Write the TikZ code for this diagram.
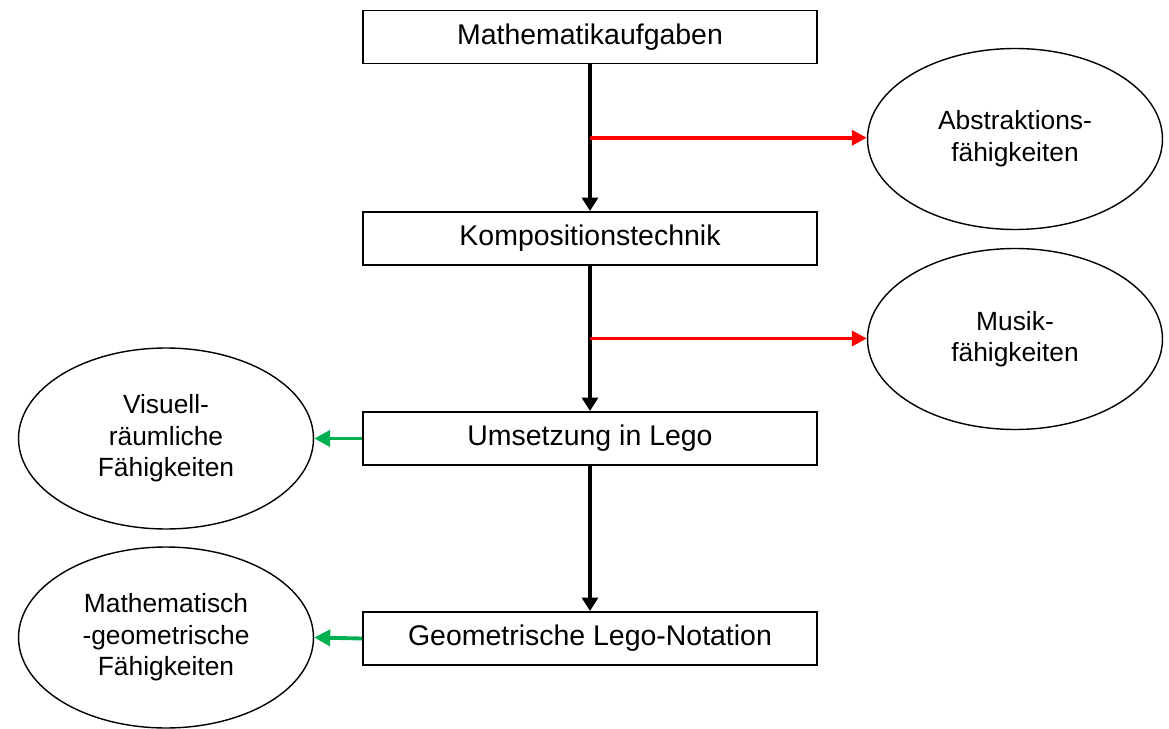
\documentclass[tikz,border=0pt]{standalone}
\usepackage{fontspec}
\setmainfont{Liberation Sans}
\usepackage{tikz}
\usetikzlibrary{arrows.meta,positioning,shapes.geometric,calc}

\begin{document}
\begin{tikzpicture}[x=0.02cm,y=-0.02cm,
  every node/.style={font=\fontsize{16.2}{19}\selectfont,align=center},
  box/.style={draw,line width=1.1pt,minimum width=9.08cm,minimum height=1.06cm,inner sep=0pt},
  oval/.style={draw,ellipse,line width=0.8pt,minimum width=5.9cm,minimum height=3.62cm,inner sep=0pt,
    font=\fontsize{15}{18}\selectfont},
  flow/.style={-{Triangle[length=2.7mm,width=3.2mm]},line width=2.3pt},
  skill/.style={-{Triangle[length=3mm,width=3mm]},line width=2pt,red},
  basis/.style={-{Triangle[length=3.2mm,width=3.2mm]},line width=2.2pt,Grn}]
\definecolor{Grn}{HTML}{00B050}
\useasboundingbox (0,0) rectangle (1169,729);
% Hauptkette
\node[box] (m) at (590,37) {Mathematikaufgaben};
\node[box] (k) at (590,238.5) {Kompositionstechnik};
\node[box] (u) at (590,438.5) {Umsetzung in Lego};
\node[box] (g) at (590,638.5) {Geometrische Lego-Notation};
% Faehigkeiten
\node[oval] (ab) at (1015,139) {Abstraktions-\\fähigkeiten};
\node[oval] (mu) at (1015,339) {Musik-\\fähigkeiten};
\node[oval] (vi) at (166,438.5) {Visuell-\\räumliche\\Fähigkeiten};
\node[oval] (ma) at (166,637.5) {Mathematisch\\-geometrische\\Fähigkeiten};
\coordinate (r1) at ($(m.south)!0.5!(k.north)$);
\coordinate (r2) at ($(k.south)!0.5!(u.north)$);
\draw[flow] (m)--(k);
\draw[flow] (k)--(u);
\draw[flow] (u)--(g);
\draw[skill] (r1)--(r1 -| ab.west);
\draw[skill] (r2)--(r2 -| mu.west);
\draw[basis] (u.west)--(vi.east);
\draw[basis] (g.west)--(ma.east);
\end{tikzpicture}
\end{document}
